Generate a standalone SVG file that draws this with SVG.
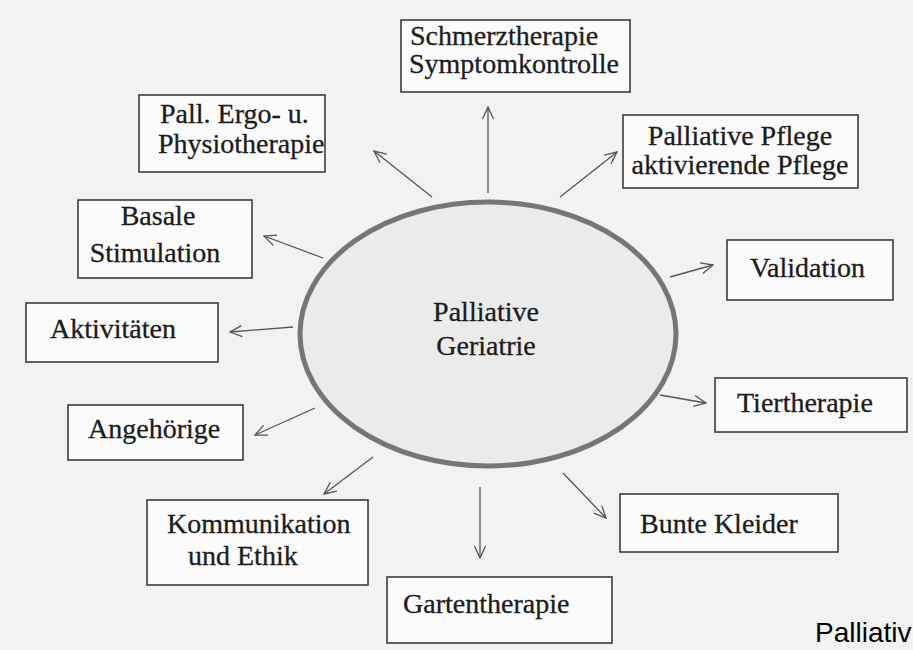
<svg xmlns="http://www.w3.org/2000/svg" width="913" height="650" viewBox="0 0 913 650">
<defs>
<style>
.bg{fill:#f2f2f2}
.box{fill:#fbfbfb;stroke:#3c3c3c;stroke-width:1.6}
.t{font-family:"Liberation Serif","Times New Roman",serif;font-size:28px;fill:#1c1c1c;stroke:#1c1c1c;stroke-width:0.3}
.m{text-anchor:middle}
.arr{stroke:#555;stroke-width:1.3;fill:none;marker-end:url(#ah)}
.ell{fill:#ebebeb;stroke:#767676;stroke-width:5}
.foot{font-family:"Liberation Sans",Arial,sans-serif;font-size:28px;fill:#000}
</style>
<marker id="ah" viewBox="0 0 14 12" refX="13" refY="6" markerWidth="14" markerHeight="12" markerUnits="userSpaceOnUse" orient="auto">
<path d="M1,0.5 L13,6 L1,11.5" fill="none" stroke="#555" stroke-width="1.3"/>
</marker>
</defs>
<rect class="bg" x="0" y="0" width="913" height="650"/>

<g id="center">
<ellipse class="ell" cx="488" cy="334" rx="188" ry="132"/>
<text class="t m" x="486" y="321">Palliative</text>
<text class="t m" x="486" y="355">Geriatrie</text>
</g>

<g id="connectors">
<line class="arr" x1="488" y1="193" x2="488" y2="107"/>
<line class="arr" x1="432" y1="197" x2="374" y2="151"/>
<line class="arr" x1="560" y1="197" x2="617" y2="152"/>
<line class="arr" x1="323" y1="258" x2="264" y2="236"/>
<line class="arr" x1="670" y1="277" x2="713" y2="265"/>
<line class="arr" x1="293" y1="327" x2="230" y2="332"/>
<line class="arr" x1="660" y1="395" x2="706" y2="403"/>
<line class="arr" x1="315" y1="408" x2="255" y2="435"/>
<line class="arr" x1="373" y1="457" x2="324" y2="494"/>
<line class="arr" x1="480" y1="487" x2="480" y2="558"/>
<line class="arr" x1="563" y1="473" x2="606" y2="518"/>
</g>

<g id="schmerz">
<rect class="box" x="401" y="20" width="229" height="72"/>
<text class="t" x="410" y="45">Schmerztherapie</text>
<text class="t" x="409" y="73">Symptomkontrolle</text>
</g>

<g id="ergo">
<rect class="box" x="139" y="95" width="186" height="77"/>
<text class="t" x="160" y="123">Pall. Ergo- u.</text>
<text class="t" x="158" y="153">Physiotherapie</text>
</g>

<g id="pflege">
<rect class="box" x="623" y="115" width="235" height="73"/>
<text class="t m" x="740" y="145">Palliative Pflege</text>
<text class="t m" x="740" y="174">aktivierende Pflege</text>
</g>

<g id="basale">
<rect class="box" x="78" y="200" width="174" height="78"/>
<text class="t m" x="158" y="225">Basale</text>
<text class="t m" x="155" y="262">Stimulation</text>
</g>

<g id="validation">
<rect class="box" x="727" y="240" width="166" height="60"/>
<text class="t" x="750" y="277">Validation</text>
</g>

<g id="aktivitaeten">
<rect class="box" x="26" y="303" width="192" height="59"/>
<text class="t" x="50" y="338">Aktivitäten</text>
</g>

<g id="tiertherapie">
<rect class="box" x="715" y="378" width="192" height="54"/>
<text class="t" x="737" y="412">Tiertherapie</text>
</g>

<g id="angehoerige">
<rect class="box" x="68" y="405" width="175" height="55"/>
<text class="t" x="88" y="438">Angehörige</text>
</g>

<g id="kommunikation">
<rect class="box" x="147" y="500" width="221" height="85"/>
<text class="t" x="167" y="533">Kommunikation</text>
<text class="t" x="188" y="565">und Ethik</text>
</g>

<g id="bunte">
<rect class="box" x="620" y="494" width="218" height="58"/>
<text class="t" x="640" y="533">Bunte Kleider</text>
</g>

<g id="garten">
<rect class="box" x="387" y="577" width="225" height="66"/>
<text class="t" x="403" y="613">Gartentherapie</text>
</g>

<text class="foot" x="815" y="642">Palliativ</text>
</svg>
